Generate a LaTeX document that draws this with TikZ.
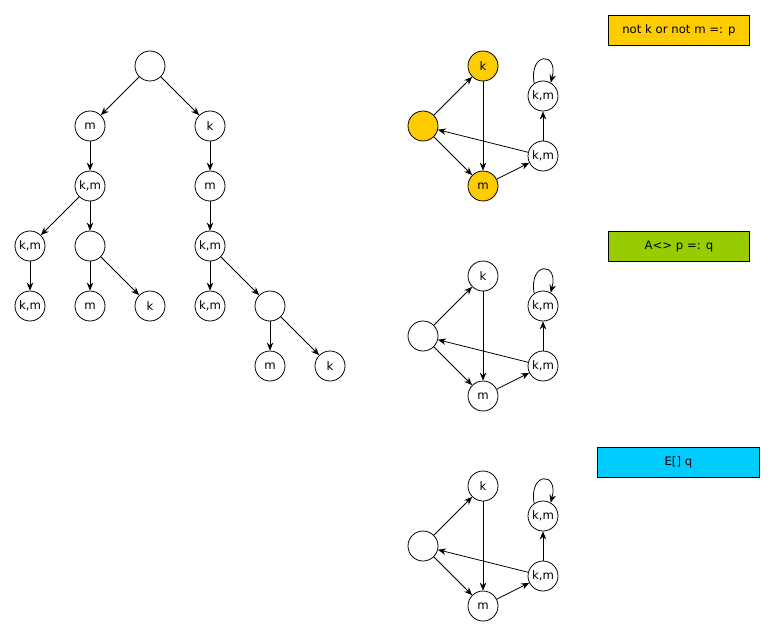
\documentclass[tikz,border=0pt]{standalone}
\usepackage{fontspec}
\setmainfont{DejaVu Sans}
\usetikzlibrary{arrows.meta}
\definecolor{goldfill}{HTML}{FFCC00}
\definecolor{greenfill}{HTML}{99CC00}
\definecolor{cyanfill}{HTML}{00CCFF}
\begin{document}
\begin{tikzpicture}[x=1pt, y=-1pt,
  font=\fontsize{11.7}{14}\selectfont,
  state/.style={draw, circle, minimum size=30pt, inner sep=0pt, line width=.8pt},
  gold/.style={state, fill=goldfill},
  formula/.style={draw, line width=.8pt, inner sep=0pt, anchor=north west},
  >={Stealth[length=8pt,width=6.5pt]}, every path/.style={line width=.8pt}]
\useasboundingbox (0,0) rectangle (775,636);

% computation tree
\node[state] (r) at (150,66) {};
\node[state] (t1) at (90,126) {m};
\node[state] (t2) at (210,126) {k};
\node[state] (t3) at (90,186) {k,m};
\node[state] (t4) at (210,186) {m};
\node[state] (t5) at (30,246) {k,m};
\node[state] (t6) at (90,246) {};
\node[state] (t7) at (210,246) {k,m};
\node[state] (t8) at (30,306) {k,m};
\node[state] (t9) at (90,306) {m};
\node[state] (t10) at (150,306) {k};
\node[state] (t11) at (210,306) {k,m};
\node[state] (t12) at (270,306) {};
\node[state] (t13) at (270,366) {m};
\node[state] (t14) at (330,366) {k};

\draw[->] (r) -- (t1);
\draw[->] (r) -- (t2);
\draw[->] (t1) -- (t3);
\draw[->] (t2) -- (t4);
\draw[->] (t3) -- (t5);
\draw[->] (t3) -- (t6);
\draw[->] (t4) -- (t7);
\draw[->] (t5) -- (t8);
\draw[->] (t6) -- (t9);
\draw[->] (t6) -- (t10);
\draw[->] (t7) -- (t11);
\draw[->] (t7) -- (t12);
\draw[->] (t12) -- (t13);
\draw[->] (t12) -- (t14);

% first model, p marked
\node[gold] (a0) at (423,126) {};
\node[gold] (ak) at (483,66) {k};
\node[gold] (am) at (483,186) {m};
\node[state] (akm) at (543,156) {k,m};
\node[state] (akm2) at (543,96) {k,m};
\draw[->] (a0) -- (ak);
\draw[->] (a0) -- (am);
\draw[->] (ak) -- (am);
\draw[->] (am) -- (akm);
\draw[->] (akm) -- (a0);
\draw[->] (akm) -- (akm2);
\draw[->] (akm2.125) to[out=100,in=75,looseness=5] (akm2.60);
\node[formula, fill=goldfill, minimum width=141pt, minimum height=30pt] (fp) at (608,15) {not k or not m =: p};

% second model
\begin{scope}[yshift=-210pt]
\node[state] (b0) at (423,126) {};
\node[state] (bk) at (483,66) {k};
\node[state] (bm) at (483,186) {m};
\node[state] (bkm) at (543,156) {k,m};
\node[state] (bkm2) at (543,96) {k,m};
\draw[->] (b0) -- (bk);
\draw[->] (b0) -- (bm);
\draw[->] (bk) -- (bm);
\draw[->] (bm) -- (bkm);
\draw[->] (bkm) -- (b0);
\draw[->] (bkm) -- (bkm2);
\draw[->] (bkm2.125) to[out=100,in=75,looseness=5] (bkm2.60);
\node[formula, fill=greenfill, minimum width=141pt, minimum height=30pt] (fq) at (608,21) {A<> p =: q};
\end{scope}

% third model
\begin{scope}[yshift=-420pt]
\node[state] (c0) at (423,126) {};
\node[state] (ck) at (483,66) {k};
\node[state] (cm) at (483,186) {m};
\node[state] (ckm) at (543,156) {k,m};
\node[state] (ckm2) at (543,96) {k,m};
\draw[->] (c0) -- (ck);
\draw[->] (c0) -- (cm);
\draw[->] (ck) -- (cm);
\draw[->] (cm) -- (ckm);
\draw[->] (ckm) -- (c0);
\draw[->] (ckm) -- (ckm2);
\draw[->] (ckm2.125) to[out=100,in=75,looseness=5] (ckm2.60);
\node[formula, fill=cyanfill, minimum width=162pt, minimum height=30pt] (fe) at (597,27) {E[] q};
\end{scope}
\end{tikzpicture}
\end{document}
